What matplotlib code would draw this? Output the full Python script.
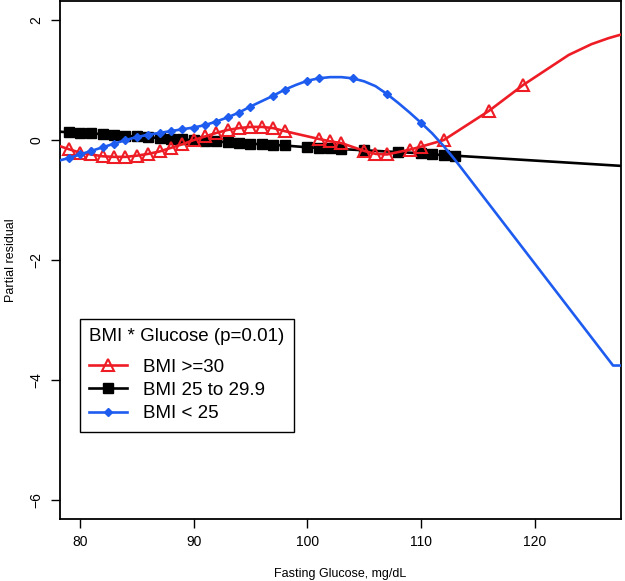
import matplotlib
matplotlib.use('Agg')
from matplotlib import pyplot as plt

plt.rcParams['font.family'] = ['Liberation Sans', 'DejaVu Sans']

red = '#ee1c25'
black = '#000000'
blue = '#1e5cf0'

# BMI >= 30
red_x = [79, 80, 81, 82, 83, 84, 85, 86, 87, 88, 89, 90, 91, 92, 93, 94, 95, 96, 97, 98,
         101, 102, 103, 105, 106, 107, 109, 110, 112, 116, 119]
red_y = [-0.15, -0.21, -0.24, -0.27, -0.28, -0.28, -0.26, -0.23, -0.19, -0.13, -0.07, 0.0,
         0.06, 0.12, 0.17, 0.20, 0.22, 0.22, 0.20, 0.15,
         0.02, -0.02, -0.05, -0.18, -0.23, -0.24, -0.16, -0.11, 0.0, 0.49, 0.92]
red_line_x = [78.2] + red_x + [121, 123, 125, 126.5, 127.6]
red_line_y = [-0.10] + red_y + [1.17, 1.42, 1.60, 1.70, 1.76]

# BMI 25 to 29.9
black_x = [79, 80, 81, 82, 83, 84, 85, 86, 87, 88, 89, 90, 91, 92, 93, 94, 95, 96, 97, 98,
           100, 101, 102, 103, 105, 108, 110, 111, 112, 113]
black_y = [0.13, 0.12, 0.11, 0.10, 0.08, 0.07, 0.06, 0.05, 0.03, 0.02, 0.01, 0.0,
           -0.01, -0.02, -0.04, -0.05, -0.06, -0.07, -0.08, -0.09,
           -0.12, -0.13, -0.14, -0.15, -0.17, -0.20, -0.22, -0.24, -0.25, -0.26]
black_line_x = [78.2] + black_x + [127.6]
black_line_y = [0.14] + black_y + [-0.43]

# BMI < 25
blue_x = [79, 80, 81, 82, 83, 84, 85, 86, 87, 88, 89, 90, 91, 92, 93, 94, 95,
          97, 98, 100, 101, 104, 107, 110]
blue_y = [-0.30, -0.24, -0.18, -0.12, -0.06, 0.0, 0.05, 0.09, 0.12, 0.15, 0.18, 0.21,
          0.25, 0.31, 0.38, 0.46, 0.56, 0.74, 0.84, 0.99, 1.03, 1.03, 0.77, 0.29]
blue_line_x = [78.2, 79, 80, 81, 82, 83, 84, 85, 86, 87, 88, 89, 90, 91, 92, 93, 94, 95, 96,
               97, 98, 99, 100, 101, 102, 103, 104, 105, 106, 107, 108, 109, 110,
               111, 112, 113, 126.9, 127.6]
blue_line_y = [-0.34, -0.30, -0.24, -0.18, -0.12, -0.06, 0.0, 0.05, 0.09, 0.12, 0.15, 0.18,
               0.21, 0.25, 0.31, 0.38, 0.46, 0.56, 0.65, 0.74, 0.84, 0.92, 0.99, 1.03,
               1.05, 1.05, 1.03, 0.98, 0.90, 0.77, 0.62, 0.46, 0.29,
               0.11, -0.10, -0.33, -3.76, -3.76]

x_ticks = [80, 90, 100, 110, 120]
y_ticks = [-6, -4, -2, 0, 2]

fig = plt.figure(figsize=(6.25, 5.81), dpi=100)
ax = fig.add_axes([59.5 / 625, 62 / 581, (621 - 59.5) / 625, (519 - 1) / 581])

ax.plot(red_line_x, red_line_y, color=red, lw=1.9, zorder=3)
ax.plot(red_x, red_y, ls='none', marker='^', ms=8, mfc='none', mec=red, mew=1.5, zorder=3)
ax.plot(black_line_x, black_line_y, color=black, lw=1.9, zorder=2)
ax.plot(black_x, black_y, ls='none', marker='s', ms=6.5, color=black, zorder=2)
ax.plot(blue_line_x, blue_line_y, color=blue, lw=1.9, zorder=4)
ax.plot(blue_x, blue_y, ls='none', marker='D', ms=4.5, color=blue, zorder=4)

# legend handles
h_red, = ax.plot([], [], color=red, lw=1.9, marker='^', ms=8, mfc='none', mec=red, mew=1.5)
h_black, = ax.plot([], [], color=black, lw=1.9, marker='s', ms=6.5)
h_blue, = ax.plot([], [], color=blue, lw=1.9, marker='D', ms=4.5)

ax.set_xlim(78.2, 127.6)
ax.set_ylim(-6.32, 2.32)
ax.set_xticks(x_ticks)
ax.set_yticks(y_ticks)
ax.set_yticklabels([str(v).replace('-', '\u2212') for v in y_ticks], rotation=90, va='center')
ax.tick_params(length=6.5, width=1, labelsize=10, pad=5, color='black')
for s in ax.spines.values():
    s.set_linewidth(1.3)

ax.set_xlabel('Fasting Glucose, mg/dL', fontsize=9, labelpad=14)
ax.set_ylabel('Partial residual', fontsize=9, labelpad=9)

leg = ax.legend([h_red, h_black, h_blue], ['BMI >=30', 'BMI 25 to 29.9', 'BMI < 25'],
                title='BMI * Glucose (p=0.01)', loc='upper left',
                bbox_to_anchor=(80 / 625, 1 - 319 / 581), bbox_transform=fig.transFigure,
                fontsize=13.5, title_fontsize=13.5, fancybox=False, edgecolor='black',
                framealpha=1, handlelength=2.0, handletextpad=0.85, borderpad=0.5,
                labelspacing=0.33, borderaxespad=0)
leg.get_frame().set_linewidth(1)
leg._legend_box.align = 'left'
leg._legend_box.sep = 0.33 * 13.5 + 5

plt.savefig('out.png', dpi=100)
